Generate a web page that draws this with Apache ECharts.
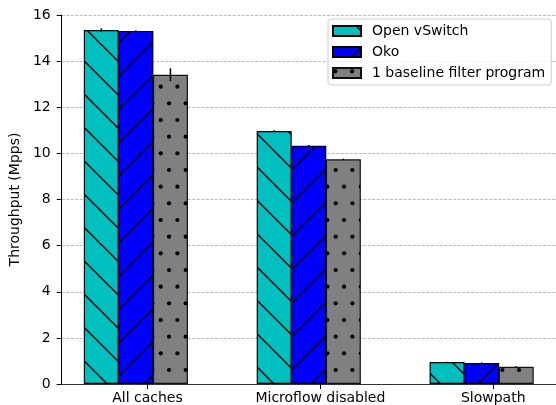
<!DOCTYPE html>
<html>
<head>
<meta charset="utf-8">
<script src="https://cdn.jsdelivr.net/npm/echarts@6/dist/echarts.min.js"></script>
<style>
html,body{margin:0;padding:0;background:#fff;}
#chart{width:556px;height:405px;}
</style>
</head>
<body>
<div id="chart"></div>
<script>
// ---- data ----
const categories = ['All caches', 'Microflow disabled', 'Slowpath'];
const seriesNames = ['Open vSwitch', 'Oko', '1 baseline filter program'];
const ovsValues = [15.35, 10.97, 0.95];
const okoValues = [15.31, 10.33, 0.91];
const baselineValues = [13.41, 9.74, 0.75];
const ovsErrors = [0.07, 0.03, 0.02];
const okoErrors = [0.03, 0.03, 0.03];
const baselineErrors = [0.28, 0.03, 0.02];
const yTicks = [0, 2, 4, 6, 8, 10, 12, 14, 16];

// ---- layout / style ----
const barOffsets = [-0.267, -0.067, 0.133]; // bar centre offsets from tick, in axis units
const FONT = 'DejaVu Sans';

function makeTile(base, draw) {
  const c = document.createElement('canvas');
  c.width = 100; c.height = 100;
  const ctx = c.getContext('2d');
  ctx.fillStyle = base;
  ctx.fillRect(0, 0, 100, 100);
  ctx.strokeStyle = '#000';
  ctx.fillStyle = '#000';
  ctx.lineWidth = 1.4;
  draw(ctx);
  return { image: c, repeat: 'repeat' };
}
const P = 100 / 3;
const backHatch = makeTile('#00bfbf', ctx => {
  const c1 = 10;
  for (let n = -5; n <= 5; n++) {
    ctx.beginPath();
    ctx.moveTo(-10, -10 + c1 + P * n);
    ctx.lineTo(110, 110 + c1 + P * n);
    ctx.stroke();
  }
});
const fwdHatch = makeTile('#0000ff', ctx => {
  const c2 = 28.5;
  for (let n = -5; n <= 8; n++) {
    ctx.beginPath();
    ctx.moveTo(-10, 10 + c2 + P * n);
    ctx.lineTo(110, -110 + c2 + P * n);
    ctx.stroke();
  }
});
const dotHatch = makeTile('#808080', ctx => {
  const s = 100 / 6;
  const y0 = 20 - 2 * s;
  for (let r = 0; r <= 10; r++) {
    const y = y0 + s * r;
    const x0 = (r % 2 === 0) ? 10.7 : 10.7 + s / 2;
    for (let k = -2; k <= 7; k++) {
      ctx.beginPath();
      ctx.arc(x0 + s * k, y, 2.1, 0, Math.PI * 2);
      ctx.fill();
    }
  }
});

const valueSets = [ovsValues, okoValues, baselineValues];
const errorSets = [ovsErrors, okoErrors, baselineErrors];
const fills = [backHatch, fwdHatch, dotHatch];
const edges = ['#000', '#000', '#111'];

const series = [];
valueSets.forEach((vals, k) => {
  series.push({
    name: seriesNames[k],
    type: 'bar',
    barWidth: 35,
    barGap: '-100%',
    data: vals.map((v, i) => [i + barOffsets[k], v]),
    itemStyle: { color: fills[k], borderColor: edges[k], borderWidth: 1.2 },
    emphasis: { disabled: true },
    z: 2
  });
});
valueSets.forEach((vals, k) => {
  series.push({
    type: 'custom',
    name: 'err' + k,
    data: vals.map((v, i) => [i + barOffsets[k], v, errorSets[k][i]]),
    encode: { x: 0, y: 1 },
    z: 5,
    silent: true,
    renderItem: function (params, api) {
      const x = api.value(0), v = api.value(1), e = api.value(2);
      const p1 = api.coord([x, v - e]);
      const p2 = api.coord([x, v + e]);
      return {
        type: 'line',
        shape: { x1: p1[0], y1: p1[1], x2: p2[0], y2: p2[1] },
        style: { stroke: '#000', lineWidth: 1.5 }
      };
    }
  });
});

const chart = echarts.init(document.getElementById('chart'), null, { renderer: 'canvas' });
chart.setOption({
  animation: false,
  backgroundColor: '#fff',
  textStyle: { fontFamily: FONT },
  grid: { left: 57, top: 15, width: 501, height: 369, containLabel: false },
  legend: {
    data: seriesNames,
    orient: 'vertical',
    left: 328,
    top: 19,
    itemWidth: 28,
    itemHeight: 10,
    itemGap: 7,
    padding: [5, 6, 5, 4],
    icon: 'rect',
    borderColor: '#cccccc',
    borderWidth: 1,
    borderRadius: 3,
    backgroundColor: 'rgba(255,255,255,0.8)',
    selectedMode: false,
    textStyle: { fontFamily: FONT, fontSize: 14, color: '#000', padding: [0, 0, 0, 6] }
  },
  xAxis: {
    type: 'value',
    min: -0.496,
    max: 2.363,
    axisLine: { show: true, onZero: false, lineStyle: { color: '#333', width: 1.2 } },
    axisTick: { show: true, length: 5, customValues: [0, 1, 2], lineStyle: { color: '#000' } },
    axisLabel: {
      customValues: [0, 1, 2],
      formatter: v => categories[Math.round(v)] || '',
      fontFamily: FONT, fontSize: 14, color: '#000', margin: 7
    },
    splitLine: { show: false }
  },
  yAxis: {
    type: 'value',
    min: 0,
    max: 16,
    interval: 2,
    name: 'Throughput (Mpps)',
    nameLocation: 'middle',
    nameGap: 36,
    nameTextStyle: { fontFamily: FONT, fontSize: 14, color: '#000' },
    axisLine: { show: true, onZero: false, lineStyle: { color: '#000', width: 1 } },
    axisTick: { show: true, length: 5, lineStyle: { color: '#000' } },
    axisLabel: {
      fontFamily: FONT, fontSize: 14, color: '#000', margin: 11,
      formatter: v => (yTicks.indexOf(v) >= 0 ? String(v) : '')
    },
    splitLine: { show: true, lineStyle: { color: '#999', type: [3, 1.5], width: 0.7 } }
  },
  series: series
});
</script>
</body>
</html>
